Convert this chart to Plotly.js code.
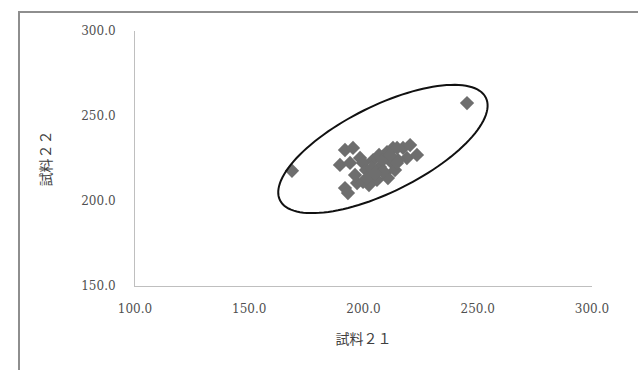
<!DOCTYPE html>
<html>
<head>
<meta charset="utf-8">
<script src="https://cdn.plot.ly/plotly-3.0.1.min.js"></script>
<style>
  html, body { margin: 0; padding: 0; background: #fff; overflow: hidden; }
  #chart { position: absolute; left: 0; top: 0; width: 638px; height: 370px; }
  #frame { position: absolute; left: 18px; top: 11px; width: 700px; height: 400px;
           border: 2px solid #8e8e8e; pointer-events: none; }
</style>
</head>
<body>
<div id="chart"></div>
<div id="frame"></div>
<script>
// Data
const sample21 = [168.7, 245.3, 191.9, 195.4, 189.7, 194.1, 198.5, 199.8, 191.9, 193.2,
                  197.2, 199.8, 202.8, 205.9, 209.4, 207.2, 212.5, 210.3, 212.9, 217.3,
                  220.4, 219.0, 223.4, 201.1, 204.2, 206.8, 202.4, 196.3, 208.5, 215.1,
                  213.8, 210.7, 203.7, 211.6, 214.7, 208.5, 201.5, 214.7, 205.0];
const sample22 = [217.8, 257.6, 230.0, 231.2, 221.2, 222.4, 225.3, 222.4, 207.6, 204.7,
                  210.6, 211.2, 214.1, 212.4, 216.5, 220.0, 222.4, 228.8, 231.2, 231.2,
                  232.9, 225.3, 227.1, 218.2, 224.1, 227.1, 209.4, 215.3, 224.1, 224.1,
                  218.2, 213.5, 219.4, 227.1, 231.2, 217.1, 213.5, 222.4, 216.0];
const xTitle = '試料２１';
const yTitle = '試料２２';

// Ellipse annotation (center in data units, radii in screen pixels)
const ell = { cx: 208.5, cy: 230.6, a: 115, b: 43, angleDeg: 26.5 };
const pxPerX = 457 / 200, pxPerY = 255 / 150;
let path = '';
const th = ell.angleDeg * Math.PI / 180;
for (let i = 0; i <= 120; i++) {
  const t = 2 * Math.PI * i / 120;
  const dx = ell.a * Math.cos(th) * Math.cos(t) - ell.b * Math.sin(th) * Math.sin(t);
  const dy = ell.a * Math.sin(th) * Math.cos(t) + ell.b * Math.cos(th) * Math.sin(t);
  const x = ell.cx + dx / pxPerX, y = ell.cy + dy / pxPerY;
  path += (i === 0 ? 'M' : 'L') + x.toFixed(3) + ',' + y.toFixed(3);
}
path += 'Z';

const tickFont = { family: 'DejaVu Serif, Liberation Serif, serif', size: 12, color: '#505050' };
const titleFont = { family: 'Noto Sans CJK JP, sans-serif', size: 14, color: '#404040' };

Plotly.newPlot('chart', [{
  type: 'scatter', mode: 'markers',
  x: sample21, y: sample22,
  marker: { symbol: 'diamond', size: 11, color: '#6e6e6e', line: { width: 0 } },
  hoverinfo: 'none'
}], {
  width: 638, height: 370,
  margin: { l: 135, r: 46, t: 31, b: 84 },
  paper_bgcolor: '#ffffff', plot_bgcolor: '#ffffff',
  showlegend: false,
  xaxis: {
    range: [100, 300], tickvals: [100, 150, 200, 250, 300],
    tickformat: '.1f', showgrid: false, zeroline: false,
    showline: true, linecolor: '#bfbfbf', linewidth: 1,
    ticks: 'outside', ticklen: 12, tickcolor: 'rgba(0,0,0,0)',
    tickfont: tickFont, automargin: false,
    title: { text: xTitle, font: titleFont, standoff: 18 }
  },
  yaxis: {
    range: [150, 300], tickvals: [150, 200, 250, 300],
    tickformat: '.1f', showgrid: false, zeroline: false,
    showline: true, linecolor: '#bfbfbf', linewidth: 1,
    ticks: 'outside', ticklen: 16, tickcolor: 'rgba(0,0,0,0)',
    tickfont: tickFont, automargin: false,
    title: { text: yTitle, font: titleFont, standoff: 26 }
  },
  shapes: [{
    type: 'path', xref: 'x', yref: 'y', path: path,
    line: { color: '#111111', width: 2 }, fillcolor: 'rgba(0,0,0,0)'
  }]
}, { staticPlot: true });
</script>
</body>
</html>
